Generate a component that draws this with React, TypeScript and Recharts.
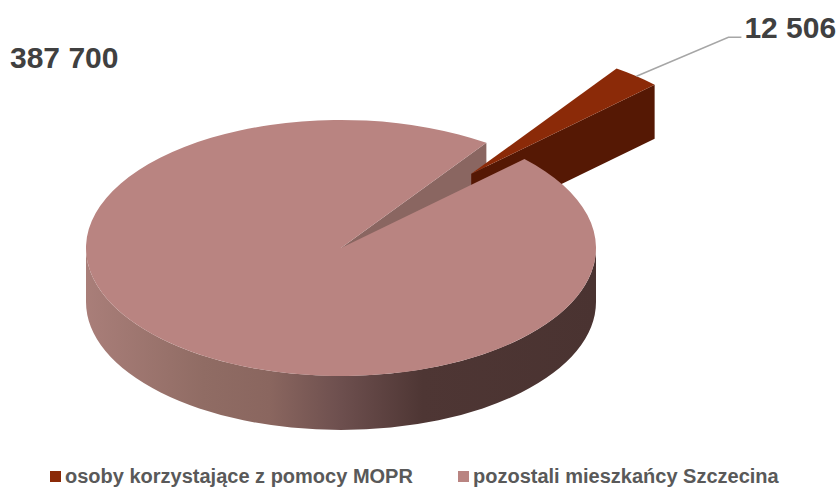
import React from 'react';
import { PieChart, Pie, Legend } from 'recharts';

const CATEGORIES = ['osoby korzystające z pomocy MOPR', 'pozostali mieszkańcy Szczecina'];
const VALUES = [12506, 387700];
const COLORS = ['#8b2a08', '#b98481'];
const SIDE_RED = '#551804';
const NOTCH_WALL = '#8a6661';

const SQUASH = 0.502;
const DEPTH = 54;
const EXPLODE = 197;
const EXPLODE_TILT = 1;
const RAD = Math.PI / 180;

const table = CATEGORIES.map((name, i) => ({ name, value: VALUES[i], fill: COLORS[i] }));
const fmt = (v: number) => String(v).replace(/\B(?=(\d{3})+$)/g, ' ');

const pt = (cx: number, cy: number, r: number, a: number, dy = 0) =>
  [cx + r * Math.cos(a * RAD), cy - r * SQUASH * Math.sin(a * RAD) + dy] as const;

const WallShape = (p: any) => {
  if (p.name !== CATEGORIES[1]) return <g />;
  const { cx, cy, outerRadius: R, startAngle: s } = p;
  const a = pt(cx, cy, R, s);
  const b = pt(cx, cy, R, s, DEPTH);
  const c = pt(cx, cy, 0, s, DEPTH);
  return <path d={`M${cx},${cy}L${a}L${b}L${c}Z`} fill={NOTCH_WALL} />;
};

const SliceShape = (p: any) => {
  const { cx, cy, outerRadius: R, startAngle: s, endAngle: e, fill } = p;
  const ry = R * SQUASH;
  if (p.name === CATEGORIES[0]) {
    const [ox, oy] = pt(cx, cy, EXPLODE, (s + e) / 2 - EXPLODE_TILT);
    const a = pt(ox, oy, R, s);
    const b = pt(ox, oy, R, e);
    return (
      <g>
        <path d={`M${ox},${oy}L${a}L${a[0]},${a[1] + DEPTH}L${ox},${oy + DEPTH}Z`} fill={SIDE_RED} />
        <path d={`M${ox},${oy}L${a}A${R},${ry} 0 0 0 ${b}Z`} fill={fill} />
      </g>
    );
  }
  const a = pt(cx, cy, R, s);
  const b = pt(cx, cy, R, e);
  return (
    <g>
      <defs>
        <linearGradient id="mainSide" gradientUnits="userSpaceOnUse" x1={cx - R} y1={0} x2={cx + R} y2={0}>
          <stop offset="0" stopColor="#a97e79" />
          <stop offset="0.23" stopColor="#906c64" />
          <stop offset="0.36" stopColor="#8a665f" />
          <stop offset="0.5" stopColor="#6d4f4e" />
          <stop offset="0.66" stopColor="#4e3634" />
          <stop offset="1" stopColor="#4a3331" />
        </linearGradient>
      </defs>
      <path
        d={`M${cx - R},${cy}A${R},${ry} 0 0 0 ${cx + R},${cy}L${cx + R},${cy + DEPTH}A${R},${ry} 0 0 1 ${cx - R},${cy + DEPTH}Z`}
        fill="url(#mainSide)"
      />
      <path d={`M${cx},${cy}L${a}A${R},${ry} 0 1 0 ${b}Z`} fill={fill} />
    </g>
  );
};

const renderLabel = (p: any) => {
  const style = { fontFamily: '"Liberation Sans", Arial, sans-serif', fontWeight: 700, fontSize: 30, fill: '#404040' };
  if (p.name === CATEGORIES[0]) {
    const mid = p.midAngle;
    const [ox, oy] = pt(p.cx, p.cy, EXPLODE, mid - EXPLODE_TILT);
    const e = pt(ox, oy, p.outerRadius, mid);
    const kx = e[0] + 92;
    const ky = e[1] - 39;
    return (
      <g>
        <polyline points={`${e} ${kx},${ky} ${kx + 13},${ky}`} fill="none" stroke="#a6a6a6" strokeWidth={1.5} />
        <text x={kx + 16} y={ky + 1} style={style}>{fmt(p.value)}</text>
      </g>
    );
  }
  return <text x={p.cx - 331} y={p.cy - 180} style={style}>{fmt(p.value)}</text>;
};

const LegendContent = (p: any) => {
  const items = CATEGORIES.map((c) => (p.payload || []).find((it: any) => it.value === c)).filter(Boolean);
  return (
    <div style={{ position: 'relative', height: 24, fontFamily: '"Liberation Sans", Arial, sans-serif', fontWeight: 700, fontSize: 20, color: '#595959' }}>
      {items.map((it: any, i: number) => (
        <span key={it.value} style={{ position: 'absolute', left: i === 0 ? 50 : 458, top: 0, whiteSpace: 'nowrap', display: 'flex', alignItems: 'center' }}>
          <span style={{ display: 'inline-block', width: 11, height: 11, background: COLORS[i], marginRight: 4 }} />
          {it.value}
        </span>
      ))}
    </div>
  );
};

export default function App() {
  const pieProps = {
    data: table,
    dataKey: 'value',
    nameKey: 'name',
    cx: 341,
    cy: 248,
    outerRadius: 255,
    innerRadius: 0,
    startAngle: 44,
    endAngle: 404,
    stroke: 'none',
    isAnimationActive: false,
  };
  return (
    <div style={{ position: 'absolute', left: 0, top: 0, width: 838, height: 487, background: '#fff' }}>
      <PieChart width={838} height={487} margin={{ top: 0, right: 0, bottom: 0, left: 0 }}>
        <Pie {...pieProps} legendType="none" shape={WallShape} />
        <Pie {...pieProps} shape={SliceShape} label={renderLabel} labelLine={false} />
        <Legend
          content={<LegendContent />}
          wrapperStyle={{ left: 0, top: 465, width: 838, height: 24 }}
        />
      </PieChart>
    </div>
  );
}
